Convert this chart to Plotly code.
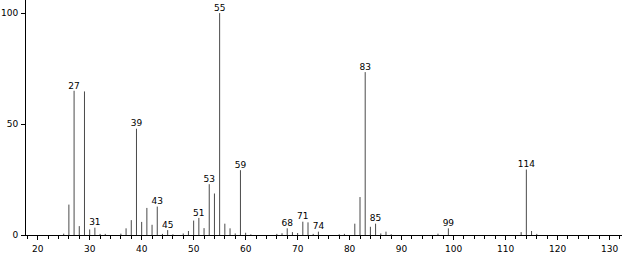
import plotly.graph_objects as go

# m/z values and relative intensities
mz = [25, 26, 27, 28, 29, 30, 31, 32, 33, 36, 37, 38, 39, 40, 41, 42, 43, 44, 45, 46,
      48, 49, 50, 51, 52, 53, 54, 55, 56, 57, 58, 59, 60, 61, 66, 67, 68, 69, 70, 71,
      72, 73, 74, 78, 79, 81, 82, 83, 84, 85, 86, 87, 88, 97, 99, 113, 114, 115, 116]
intensity = [0.6, 13.7, 65.0, 4.0, 64.7, 2.5, 3.3, 0.5, 0.5, 0.6, 3.0, 6.7, 47.9, 5.9, 12.2, 4.6, 12.8, 0.5, 2.2, 0.3,
             0.7, 1.8, 6.5, 7.7, 3.1, 22.9, 18.7, 100.0, 5.1, 3.0, 0.7, 29.2, 1.0, 0.3, 0.5, 0.8, 3.0, 1.3, 0.9, 6.0,
             5.7, 0.5, 1.5, 0.3, 0.5, 5.1, 17.1, 73.4, 3.7, 5.1, 0.7, 1.5, 0.3, 0.6, 3.0, 1.3, 29.5, 1.8, 0.5]
labeled_mz = [27, 31, 39, 43, 45, 51, 53, 55, 59, 68, 71, 74, 83, 85, 99, 114]

x_ticks = [20, 30, 40, 50, 60, 70, 80, 90, 100, 110, 120, 130]
y_ticks = [0, 50, 100]

lx, ly = [], []
for m, v in zip(mz, intensity):
    lx += [m, m, None]
    ly += [0, v, None]

lab_y = [intensity[mz.index(m)] for m in labeled_mz]

fig = go.Figure()
fig.add_trace(go.Scatter(x=lx, y=ly, mode="lines",
                         line=dict(color="#4a4a4a", width=1), hoverinfo="skip"))
fig.add_trace(go.Scatter(x=labeled_mz, y=lab_y, mode="text",
                         text=[str(m) for m in labeled_mz], textposition="top center",
                         textfont=dict(family="DejaVu Sans", size=9, color="black")))

fig.update_layout(
    width=623, height=254,
    margin=dict(l=26, r=1, t=0, b=16),
    paper_bgcolor="white", plot_bgcolor="white",
    showlegend=False,
    font=dict(family="DejaVu Sans", size=9, color="black"),
)
fig.update_xaxes(range=[17.75, 132.4], showline=True, linecolor="black", linewidth=1,
                 showgrid=False, zeroline=False, tickmode="array", tickvals=x_ticks,
                 ticks="outside", ticklen=4, tickcolor="black", ticklabelstandoff=1,
                 minor=dict(dtick=2, tick0=0, ticks="outside", ticklen=3, tickcolor="black"))
fig.update_yaxes(range=[0, 105.9], showline=True, linecolor="black", linewidth=1,
                 showgrid=False, zeroline=False, tickmode="array", tickvals=y_ticks,
                 ticks="outside", ticklen=4, tickcolor="black", ticklabelstandoff=1)

fig.write_html("out.html")
